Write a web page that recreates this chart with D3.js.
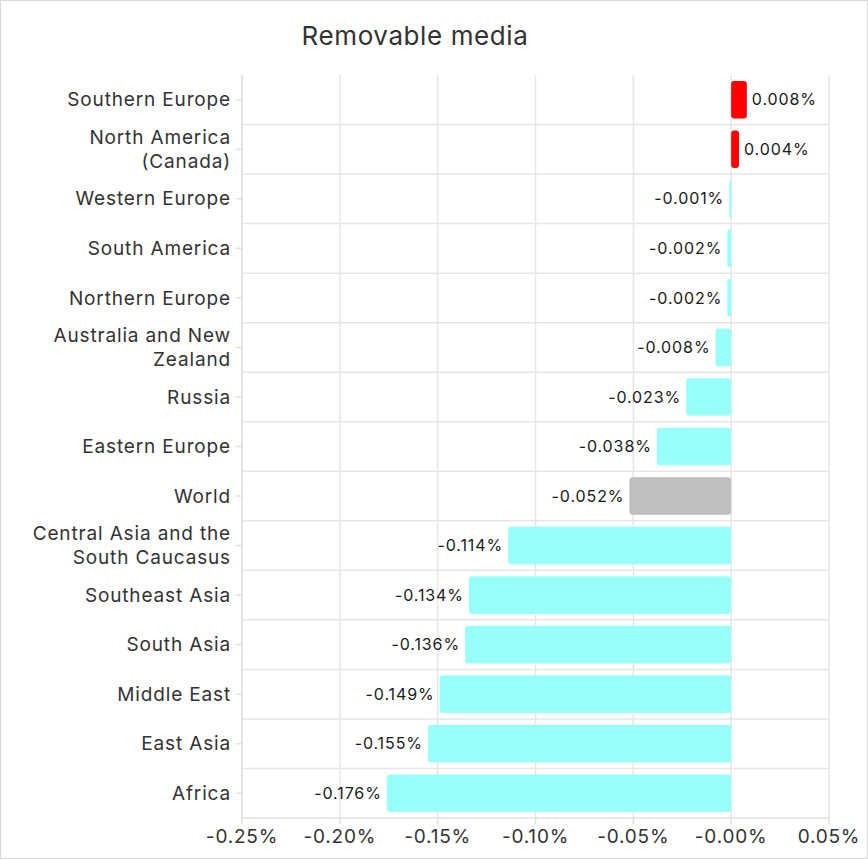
<!DOCTYPE html>
<html><head><meta charset="utf-8">
<script src="https://cdn.jsdelivr.net/npm/d3@7"></script>
<style>
html,body{margin:0;padding:0;background:#fff;}
svg{display:block;}
</style></head>
<body>
<script>
const categories = ["Southern Europe","North America (Canada)","Western Europe","South America","Northern Europe","Australia and New Zealand","Russia","Eastern Europe","World","Central Asia and the South Caucasus","Southeast Asia","South Asia","Middle East","East Asia","Africa"];
const labelLines = [["Southern Europe"],["North America","(Canada)"],["Western Europe"],["South America"],["Northern Europe"],["Australia and New","Zealand"],["Russia"],["Eastern Europe"],["World"],["Central Asia and the","South Caucasus"],["Southeast Asia"],["South Asia"],["Middle East"],["East Asia"],["Africa"]];
const values = [0.008,0.004,-0.001,-0.002,-0.002,-0.008,-0.023,-0.038,-0.052,-0.114,-0.134,-0.136,-0.149,-0.155,-0.176];
const valueLabels = ["0.008%","0.004%","-0.001%","-0.002%","-0.002%","-0.008%","-0.023%","-0.038%","-0.052%","-0.114%","-0.134%","-0.136%","-0.149%","-0.155%","-0.176%"];
const xTicks = [-0.25,-0.20,-0.15,-0.10,-0.05,0,0.05];
const xTickLabels = ["-0.25%","-0.20%","-0.15%","-0.10%","-0.05%","-0.00%","0.05%"];
const title = "Removable media";

const W=868,H=859;
const m={left:242,right:868-829,top:75,bottom:859-818};
const font="Inter, 'Noto Sans', sans-serif";
const svg=d3.select("body").append("svg").attr("width",W).attr("height",H);
svg.append("rect").attr("x",0.5).attr("y",0.5).attr("width",W-1).attr("height",H-1).attr("fill","#fff").attr("stroke","#d9d9d9");

const x=d3.scaleLinear().domain([-0.25,0.05]).range([m.left,W-m.right]);
const y=d3.scaleBand().domain(categories).range([m.top,H-m.bottom]).paddingInner(0.24).paddingOuter(0.12);

// grid
const g=svg.append("g");
g.selectAll("line.v").data(xTicks).join("line")
 .attr("x1",d=>x(d)).attr("x2",d=>x(d)).attr("y1",m.top).attr("y2",H-m.bottom)
 .attr("stroke","#e6e6e6").attr("stroke-width",1.5);
const bounds=d3.range(1,categories.length).map(i=>m.top+(H-m.top-m.bottom)*i/categories.length);
g.selectAll("line.h").data(bounds).join("line")
 .attr("x1",m.left).attr("x2",W-m.right).attr("y1",d=>d).attr("y2",d=>d)
 .attr("stroke","#e6e6e6").attr("stroke-width",1.5);

// bars
svg.append("g").selectAll("rect").data(values).join("rect")
 .attr("x",d=>x(Math.min(0,d)))
 .attr("width",d=>Math.max(1,Math.abs(x(d)-x(0))))
 .attr("y",(d,i)=>y(categories[i]))
 .attr("height",y.bandwidth())
 .attr("rx",3)
 .attr("fill",(d,i)=>categories[i]==="World"?"#bfbfbf":(d>0?"#ff0000":"#99fff9"));

// value labels
svg.append("g").selectAll("text").data(values).join("text")
 .attr("x",d=>d>0?x(d)+5:x(d)-5)
 .attr("y",(d,i)=>y(categories[i])+y.bandwidth()/2)
 .attr("dy","0.35em")
 .attr("text-anchor",d=>d>0?"start":"end")
 .attr("font-family",font).attr("font-size",16).attr("letter-spacing",0.9).attr("fill","#1a1a1a")
 .text((d,i)=>valueLabels[i]);

// y axis
const ya=svg.append("g");
ya.append("line").attr("x1",m.left).attr("x2",m.left).attr("y1",m.top).attr("y2",H-m.bottom).attr("stroke","#e0e0e0").attr("stroke-width",1.5);
ya.selectAll("line.t").data(categories).join("line")
 .attr("x1",m.left-6).attr("x2",m.left).attr("y1",d=>y(d)+y.bandwidth()/2).attr("y2",d=>y(d)+y.bandwidth()/2)
 .attr("stroke","#e0e0e0").attr("stroke-width",1.5);
const yt=ya.selectAll("text").data(categories).join("text")
 .attr("text-anchor","end").attr("font-family",font).attr("font-size",19).attr("letter-spacing",0.85).attr("fill","#333")
 .attr("transform",d=>`translate(${m.left-11},${y(d)+y.bandwidth()/2})`);
yt.each(function(d,i){
  const lines=labelLines[i];const n=lines.length;const lh=23.5;
  d3.select(this).selectAll("tspan").data(lines).join("tspan")
   .attr("x",0).attr("y",(l,j)=>(j-(n-1)/2)*lh).attr("dy","0.35em").text(l=>l);
});

// x axis
const xa=svg.append("g");
xa.append("line").attr("x1",m.left).attr("x2",W-m.right).attr("y1",H-m.bottom).attr("y2",H-m.bottom).attr("stroke","#e0e0e0").attr("stroke-width",1.5);
xa.selectAll("line.t").data(xTicks).join("line")
 .attr("x1",d=>x(d)).attr("x2",d=>x(d)).attr("y1",H-m.bottom).attr("y2",H-m.bottom+6)
 .attr("stroke","#e0e0e0").attr("stroke-width",1.5);
xa.selectAll("text").data(xTicks).join("text")
 .attr("x",d=>x(d)).attr("y",H-m.bottom+18).attr("dy","0.35em")
 .attr("text-anchor","middle").attr("font-family",font).attr("font-size",19).attr("letter-spacing",0.8).attr("fill","#333")
 .text((d,i)=>xTickLabels[i]);

svg.append("text").attr("x",415).attr("y",36).attr("dy","0.35em").attr("text-anchor","middle")
 .attr("font-family",font).attr("font-size",26).attr("letter-spacing",0.6).attr("fill","#333").text(title);
</script>
</body></html>
